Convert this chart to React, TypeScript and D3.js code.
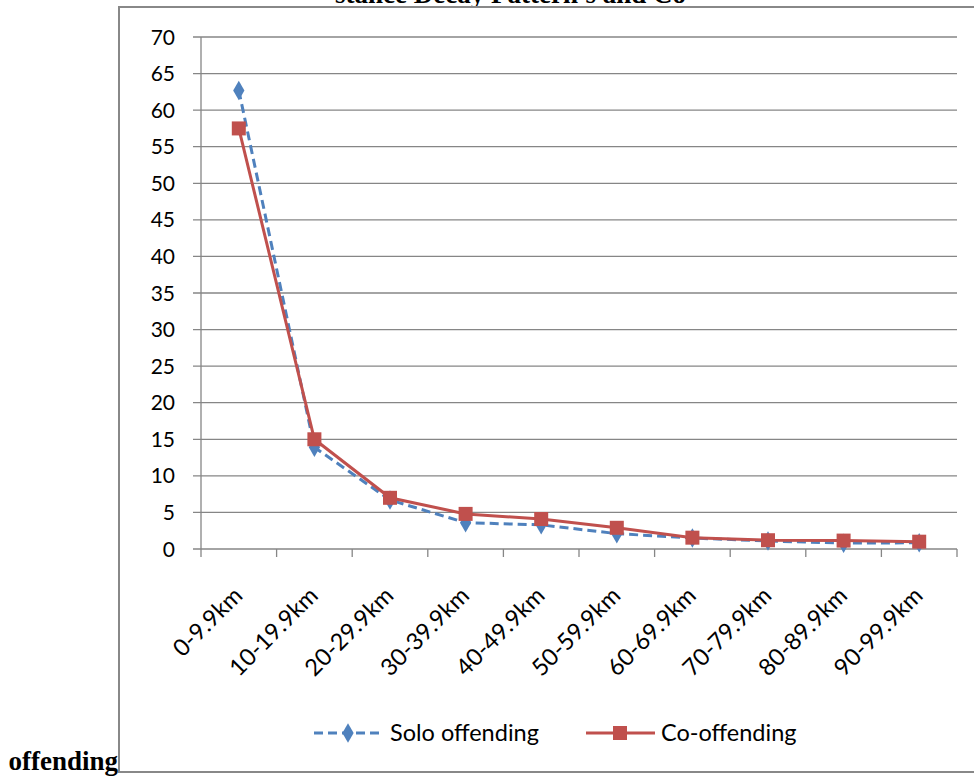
import React from "react";
import * as d3 from "d3";

const categories = ["0-9.9km", "10-19.9km", "20-29.9km", "30-39.9km", "40-49.9km", "50-59.9km", "60-69.9km", "70-79.9km", "80-89.9km", "90-99.9km"];
const soloValues = [62.7, 13.9, 6.7, 3.6, 3.3, 2.1, 1.5, 1.1, 0.8, 0.85];
const coValues = [57.5, 15.0, 7.0, 4.8, 4.1, 2.9, 1.55, 1.2, 1.15, 1.0];
const yTicks = [0, 5, 10, 15, 20, 25, 30, 35, 40, 45, 50, 55, 60, 65, 70];
const seriesNames = ["Solo offending", "Co-offending"];

const W = 974;
const H = 778;
const left = 201;
const right = 957;
const top = 37;
const bottom = 549;
const BLUE = "#4F81BD";
const RED = "#C0504D";
const GRID = "#868686";
const FONT = "Lato, 'Open Sans', sans-serif";
const SERIF = "'Liberation Serif', 'Times New Roman', serif";

export default function App() {
  const x = d3.scaleBand<string>().domain(categories).range([left, right]);
  const y = d3.scaleLinear().domain([0, 70]).range([bottom, top]);
  const cx = (c: string) => (x(c) as number) + x.bandwidth() / 2;
  const line = d3
    .line<number>()
    .x((_, i) => cx(categories[i]))
    .y((v) => y(v));
  const boundaries = d3.range(categories.length + 1).map((i) => left + i * x.step());
  const diamond = d3.symbol().type(d3.symbolDiamond).size(110);

  return (
    <svg
      width={W}
      height={H}
      style={{ position: "absolute", left: 0, top: 0, background: "#fff" }}
    >
      <rect x={0} y={0} width={W} height={H} fill="#fff" />
      <text x={335} y={2.5} fontFamily={SERIF} fontWeight="bold" fontSize={27}>
        stance Decay Pattern's and Co
      </text>
      <rect x={119} y={7} width={W} height={765} fill="#fff" stroke="#888" strokeWidth={2} />
      <text x={118} y={770} textAnchor="end" fontFamily={SERIF} fontWeight="bold" fontSize={27}>
        offending
      </text>

      {yTicks.map((t) => (
        <g key={t}>
          <line x1={left - 8} x2={right} y1={y(t)} y2={y(t)} stroke={GRID} strokeWidth={1.3} />
          <text
            x={175}
            y={y(t)}
            dy="0.36em"
            textAnchor="end"
            fontFamily={FONT}
            fontSize={21}
            fill="#000"
          >
            {t}
          </text>
        </g>
      ))}
      <line x1={left} x2={left} y1={top} y2={bottom} stroke={GRID} strokeWidth={1.3} />
      {boundaries.map((b, i) => (
        <line key={i} x1={b} x2={b} y1={bottom} y2={bottom + 8} stroke={GRID} strokeWidth={1.3} />
      ))}
      {categories.map((c) => (
        <text
          key={c}
          transform={`translate(${cx(c) + 5},${bottom + 48}) rotate(-45)`}
          textAnchor="end"
          fontFamily={FONT}
          fontSize={23.5}
          fill="#000"
        >
          {c}
        </text>
      ))}

      <path d={line(soloValues) || ""} fill="none" stroke={BLUE} strokeWidth={3} strokeDasharray="9,5" />
      {soloValues.map((v, i) => (
        <path key={i} d={diamond() || ""} transform={`translate(${cx(categories[i])},${y(v)})`} fill={BLUE} />
      ))}
      <path d={line(coValues) || ""} fill="none" stroke={RED} strokeWidth={3} />
      {coValues.map((v, i) => (
        <rect key={i} x={cx(categories[i]) - 7} y={y(v) - 7} width={14} height={14} fill={RED} />
      ))}

      <g>
        <line x1={314} x2={383} y1={733} y2={733} stroke={BLUE} strokeWidth={3} strokeDasharray="9,5" />
        <path d={diamond() || ""} transform="translate(348,733)" fill={BLUE} />
        <text x={390} y={733} dy="0.36em" fontFamily={FONT} fontSize={23.5} fill="#000">
          {seriesNames[0]}
        </text>
        <line x1={586} x2={655} y1={733} y2={733} stroke={RED} strokeWidth={3} />
        <rect x={613} y={726} width={14} height={14} fill={RED} />
        <text x={661} y={733} dy="0.36em" fontFamily={FONT} fontSize={23.5} fill="#000">
          {seriesNames[1]}
        </text>
      </g>
    </svg>
  );
}
